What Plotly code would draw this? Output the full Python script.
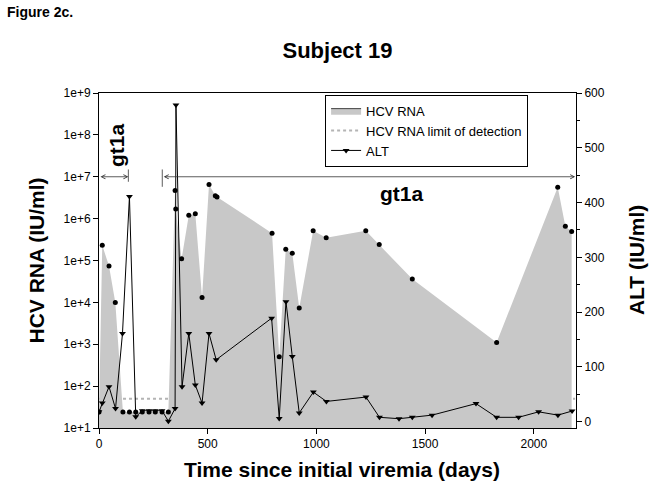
import plotly.graph_objects as go

# ---------------- data ----------------
HCV_DAYS = [0, 15, 46, 75, 110, 140, 169, 199, 230, 259, 290, 319, 350, 353, 380, 413, 443, 474,
            506, 535, 543, 796, 829, 859, 889, 921, 985, 1045, 1227, 1289, 1441, 1829, 2110, 2145, 2174]
HCV_RNA = [24, 2.3e5, 7.4e4, 1.0e4, 24, 24, 24, 24, 24, 24, 24, 24, 4.7e6, 1.7e6, 1.1e5, 1.2e6, 1.3e6, 1.3e4,
           6.5e6, 3.5e6, 3.3e6, 4.5e5, 500, 1.85e5, 1.5e5, 7.3e3, 5.1e5, 3.5e5, 5.1e5, 2.4e5, 3.6e4, 1.1e3,
           5.6e6, 6.6e5, 4.9e5]

ALT_DAYS = [0, 15, 46, 76, 108, 140, 169, 199, 230, 259, 290, 319, 350, 354, 382, 413, 443, 474, 506, 539,
            794, 829, 860, 889, 921, 986, 1046, 1228, 1290, 1380, 1441, 1532, 1734, 1829, 1930, 2022, 2111, 2176]
ALT = [18, 34, 64, 24, 161, 411, 9, 20, 20, 20, 20, 1, 24, 578, 64, 161, 67, 34, 161, 113,
       189, 6, 219, 119, 16, 54, 37, 45, 8, 5.5, 8, 12, 33, 8, 8, 18, 12, 19.5]

DETECTION_DAYS = [0, 2190]
DETECTION_LIMIT = [50, 50]

# genotype periods (start day, end day)
GENOTYPE_PERIODS = [(0, 135), (291, 2190)]
GENOTYPE_LABEL = "gt1a"

Y_TICK_VALUES = [10 ** k for k in range(1, 10)]
Y_TICK_TEXT = ["1e+%d" % k for k in range(1, 10)]
X_TICKS = [0, 500, 1000, 1500, 2000]
ALT_TICKS = [0, 100, 200, 300, 400, 500, 600]

FONT = "Liberation Sans, Arial, sans-serif"
GRAY = "#c8c8c8"

fig = go.Figure()

# detection limit (drawn first, hidden beneath the fill)
fig.add_trace(go.Scatter(
    x=DETECTION_DAYS, y=DETECTION_LIMIT, mode="lines", name="HCV RNA limit of detection",
    line=dict(color="#b4b4b4", width=2, dash="dot"), legendrank=2, hoverinfo="skip"))

# HCV RNA area (polygon closed down to the bottom of the axis)
fig.add_trace(go.Scatter(
    x=HCV_DAYS + [HCV_DAYS[-1], HCV_DAYS[0]],
    y=HCV_RNA + [1, 1],
    mode="lines", fill="toself", fillcolor=GRAY, line=dict(width=0, color=GRAY),
    showlegend=False, hoverinfo="skip"))

# legend swatch for the area
fig.add_trace(go.Scatter(
    x=[None], y=[None], mode="lines", fill="toself", fillcolor=GRAY,
    line=dict(color="#404040", width=1), name="HCV RNA", legendrank=1))

# HCV RNA dots
fig.add_trace(go.Scatter(
    x=HCV_DAYS, y=HCV_RNA, mode="markers", marker=dict(color="black", size=5, symbol="circle"),
    showlegend=False))

# ALT
fig.add_trace(go.Scatter(
    x=ALT_DAYS, y=ALT, mode="lines+markers", name="ALT", yaxis="y2",
    line=dict(color="black", width=1),
    marker=dict(symbol="triangle-down", size=6, color="black"), legendrank=3))

annotations = []
# genotype arrows
for (d0, d1) in GENOTYPE_PERIODS:
    annotations.append(dict(x=d1, y=7, ax=d0, ay=7, xref="x", yref="y", axref="x", ayref="y",
                            text="", showarrow=True, arrowside="end+start", arrowhead=5,
                            arrowsize=1, arrowwidth=0.8, arrowcolor="#333333"))
# end tick marks of the arrows
annotations.append(dict(x=GENOTYPE_PERIODS[0][1], y=6.88, ax=GENOTYPE_PERIODS[0][1], ay=7.21,
                        xref="x", yref="y", axref="x", ayref="y", text="", showarrow=True,
                        arrowhead=0, arrowwidth=0.8, arrowcolor="#333333"))
annotations.append(dict(x=GENOTYPE_PERIODS[1][0], y=6.76, ax=GENOTYPE_PERIODS[1][0], ay=7.21,
                        xref="x", yref="y", axref="x", ayref="y", text="", showarrow=True,
                        arrowhead=0, arrowwidth=0.8, arrowcolor="#333333"))
annotations.append(dict(x=83, y=7.76, xref="x", yref="y", text=GENOTYPE_LABEL, textangle=-90,
                        showarrow=False, font=dict(family=FONT, size=21, color="black", weight="bold")))
annotations.append(dict(x=1393, y=6.61, xref="x", yref="y", text=GENOTYPE_LABEL,
                        showarrow=False, font=dict(family=FONT, size=21, color="black", weight="bold")))

# axis titles and figure label
annotations.append(dict(x=-0.132, y=0.5, xref="paper", yref="paper", text="HCV RNA (IU/ml)",
                        textangle=-90, showarrow=False, xanchor="center", yanchor="middle",
                        font=dict(family=FONT, size=21, color="black", weight="bold")))
annotations.append(dict(x=1.127, y=0.5, xref="paper", yref="paper", text="ALT (IU/ml)",
                        textangle=-90, showarrow=False, xanchor="center", yanchor="middle",
                        font=dict(family=FONT, size=21, color="black", weight="bold")))
annotations.append(dict(x=0.51, y=-0.125, xref="paper", yref="paper",
                        text="Time since initial viremia (days)", showarrow=False,
                        xanchor="center", yanchor="middle",
                        font=dict(family=FONT, size=21, color="black", weight="bold")))
annotations.append(dict(x=-0.197, y=1.242, xref="paper", yref="paper", text="Figure 2c.",
                        showarrow=False, xanchor="left", yanchor="middle",
                        font=dict(family=FONT, size=14, color="black", weight="bold")))

axis_common = dict(showgrid=False, zeroline=False, showline=True, linecolor="black", linewidth=1,
                   ticks="outside", ticklen=5, tickcolor="black", tickwidth=1,
                   tickfont=dict(family=FONT, size=12, color="black"))

fig.update_layout(
    width=654, height=496,
    margin=dict(l=99, r=78, t=93, b=68),
    paper_bgcolor="white", plot_bgcolor="white",
    font=dict(family=FONT, color="black"),
    title=dict(text="Subject 19", x=0.5, xref="paper", xanchor="center", y=0.899, yanchor="middle",
               font=dict(family=FONT, size=22, color="black", weight="bold")),
    xaxis=dict(range=[0, 2194], tickvals=X_TICKS, mirror=True, **axis_common),
    yaxis=dict(type="log", range=[1, 9], tickvals=Y_TICK_VALUES, ticktext=Y_TICK_TEXT, **axis_common),
    yaxis2=dict(overlaying="y", side="right", range=[-11.5, 600], tickvals=ALT_TICKS,
                minor=dict(dtick=50, tick0=0, ticks="outside", ticklen=3, tickcolor="black"),
                **axis_common),
    legend=dict(x=0.474, y=0.995, xanchor="left", yanchor="top", bgcolor="white",
                bordercolor="black", borderwidth=1, traceorder="normal",
                font=dict(family=FONT, size=13, color="black"), itemwidth=30,
                tracegroupgap=0),
    annotations=annotations,
    showlegend=True,
)

fig.write_html("out.html", config={"displayModeBar": False},
               post_script="document.body.style.margin='0';document.body.style.padding='0';")
